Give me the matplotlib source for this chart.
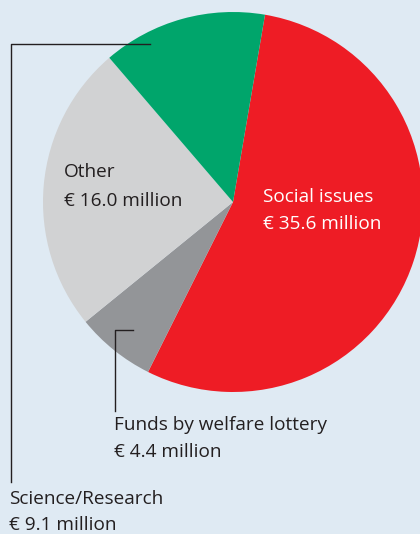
import matplotlib
matplotlib.use("Agg")
import matplotlib.pyplot as plt
from matplotlib.lines import Line2D

categories = ["Social issues", "Funds by welfare lottery", "Other", "Science/Research"]
values = [35.6, 4.4, 16.0, 9.1]
value_labels = ["€ 35.6 million", "€ 4.4 million", "€ 16.0 million", "€ 9.1 million"]
colors = ["#ee1c25", "#939598", "#d1d2d3", "#00a56b"]

W, H = 420, 534
bg = "#dfeaf3"
fig = plt.figure(figsize=(W / 100, H / 100), dpi=100, facecolor=bg)
plt.rcParams['font.family'] = ['Open Sans', 'DejaVu Sans']

cx, cy, r = 233, 202, 190
ax = fig.add_axes([(cx - r) / W, (H - cy - r) / H, 2 * r / W, 2 * r / H])
ax.set_facecolor(bg)
wedges, _ = ax.pie(values, colors=colors, startangle=80.3, counterclock=False,
                   wedgeprops=dict(linewidth=0, clip_on=False))
ax.set_xlim(-1, 1)
ax.set_ylim(-1, 1)
ax.set_aspect('equal')
ax.axis('off')

def fx(x):
    return x / W

def fy(y):
    return 1 - y / H

tc = "#231f20"
fs = 13.7
# Other label
fig.text(fx(64), fy(172), categories[2], color=tc, fontsize=fs, va='center', ha='left')
fig.text(fx(64), fy(201), value_labels[2], color=tc, fontsize=fs, va='center', ha='left')
# Social issues
fig.text(fx(263), fy(197), categories[0], color='white', fontsize=fs, va='center', ha='left')
fig.text(fx(263), fy(224), value_labels[0], color='white', fontsize=fs, va='center', ha='left')
# Lottery
fig.text(fx(114), fy(425), categories[1], color=tc, fontsize=fs, va='center', ha='left')
fig.text(fx(114), fy(452), value_labels[1], color=tc, fontsize=fs, va='center', ha='left')
# Science
fig.text(fx(9), fy(499), categories[3], color=tc, fontsize=fs, va='center', ha='left')
fig.text(fx(9), fy(525), value_labels[3], color=tc, fontsize=fs, va='center', ha='left')

# leader lines
fig.add_artist(Line2D([fx(150), fx(11), fx(11)], [fy(44), fy(44), fy(482)],
                      color=tc, lw=1.0, transform=fig.transFigure))
fig.add_artist(Line2D([fx(133), fx(115), fx(115)], [fy(330), fy(330), fy(411)],
                      color=tc, lw=1.0, transform=fig.transFigure))

fig.savefig("out.png", dpi=100, facecolor=bg)
